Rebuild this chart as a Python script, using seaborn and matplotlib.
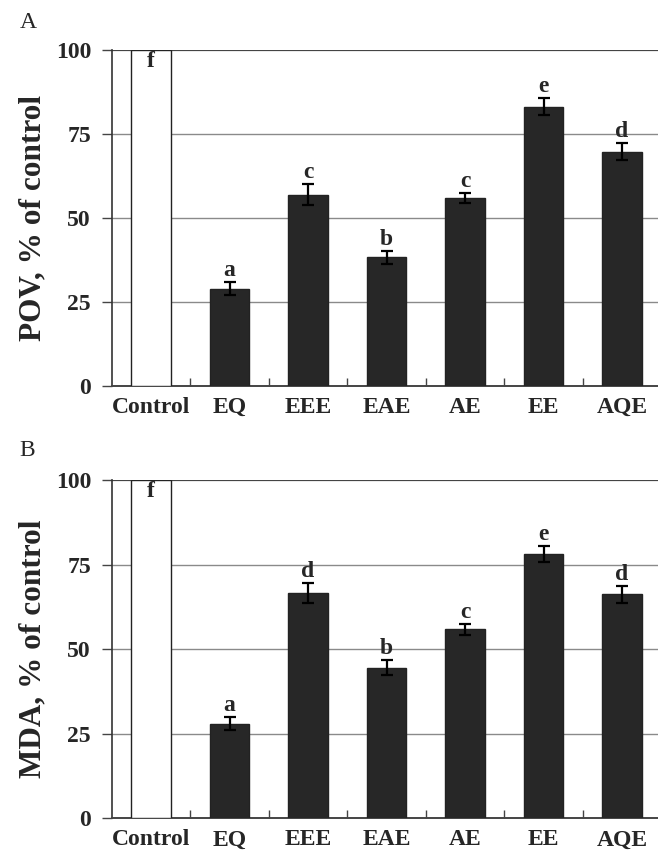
import numpy as np
import pandas as pd
import matplotlib.pyplot as plt
import seaborn as sns

# ---- data ----
groups = ["Control", "EQ", "EEE", "EAE", "AE", "EE", "AQE"]
pov_mean = [100, 29.0, 57.0, 38.3, 56.0, 83.2, 69.8]
pov_err = [0, 2.0, 3.0, 2.0, 1.6, 2.4, 2.5]
pov_letters = ["f", "a", "c", "b", "c", "e", "d"]
mda_mean = [100, 28.0, 66.7, 44.6, 55.9, 78.1, 66.3]
mda_err = [0, 2.0, 3.0, 2.1, 1.6, 2.4, 2.5]
mda_letters = ["f", "a", "d", "b", "c", "e", "d"]

sns.set_style("white")
plt.rcParams["font.family"] = ["Liberation Serif", "DejaVu Serif"]

fig = plt.figure(figsize=(6.58, 8.56), dpi=100)
axA = fig.add_axes([0.170, 0.549, 0.835, 0.3925])
axB = fig.add_axes([0.170, 0.044, 0.835, 0.3950])

palette = {g: ("white" if g == "Control" else "#272727") for g in groups}


def panel(ax, means, errs, letters, ylabel, tag, tag_y):
    df = pd.DataFrame({"group": groups, "value": means})
    sns.barplot(data=df, x="group", y="value", hue="group", palette=palette,
                order=groups, legend=False, width=0.5, edgecolor="#222222",
                linewidth=1.0, ax=ax, zorder=3)
    x = np.arange(len(groups))
    ax.errorbar(x[1:], means[1:], yerr=errs[1:], fmt="none", ecolor="black",
                elinewidth=1.6, capsize=4, capthick=1.6, zorder=4)
    for i, (m, e, t) in enumerate(zip(means, errs, letters)):
        if i == 0:
            ax.text(i, m - 0.3, t, ha="center", va="top", fontsize=17,
                    fontweight="bold", zorder=5)
        else:
            ax.text(i, m + e + 0.3, t, ha="center", va="bottom", fontsize=17,
                    fontweight="bold", zorder=5)
    for yv in [25, 50, 75]:
        ax.axhline(yv, color="#8a8a8a", lw=1.0, zorder=1)
    ax.axhline(100, color="#444444", lw=1.6, zorder=1)
    ax.set_xlim(-0.5, 6.5)
    ax.set_ylim(0, 100)
    ax.set_yticks([0, 25, 50, 75, 100])
    ax.set_xticks(np.arange(0.5, 6.5, 1), minor=True)
    ax.tick_params(axis="x", which="minor", direction="in", length=6,
                   width=1, color="#444444", bottom=True)
    ax.tick_params(axis="x", which="major", length=0, pad=8, labelsize=17)
    ax.tick_params(axis="y", direction="out", length=7, width=1,
                   color="#444444", left=True, labelsize=17, pad=8)
    for lab in ax.get_xticklabels() + ax.get_yticklabels():
        lab.set_fontweight("bold")
    ax.set_xlabel("")
    ax.set_ylabel(ylabel, fontsize=22.5, fontweight="bold", labelpad=6)
    for s in ["top", "right"]:
        ax.spines[s].set_visible(False)
    ax.spines["left"].set_color("#333333")
    ax.spines["bottom"].set_color("#444444")
    ax.spines["left"].set_linewidth(1.2)
    ax.spines["bottom"].set_linewidth(1.4)
    ax.set_facecolor("white")
    ax.text(-0.168, tag_y, tag, transform=ax.transAxes, fontsize=17,
            ha="left", va="center")


panel(axA, pov_mean, pov_err, pov_letters, "POV, % of control", "A", 1.083)
panel(axB, mda_mean, mda_err, mda_letters, "MDA, % of control", "B", 1.089)

fig.savefig("out.png", dpi=100, facecolor="white")
